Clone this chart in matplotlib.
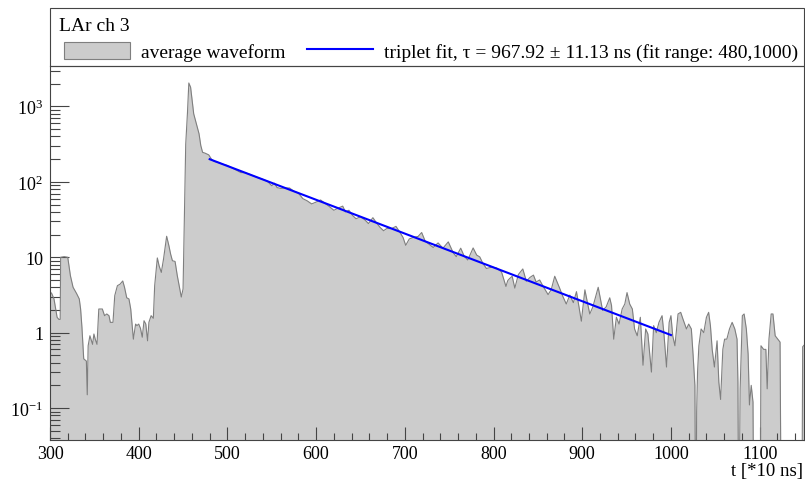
import matplotlib

matplotlib.use("Agg")
import matplotlib.pyplot as plt
import numpy as np
from matplotlib.lines import Line2D
from matplotlib.patches import Patch, Rectangle
from matplotlib.ticker import FixedFormatter, FixedLocator, LogLocator, MultipleLocator, NullFormatter

plt.rcParams["font.family"] = ["Liberation Serif", "DejaVu Serif"]
plt.rcParams["mathtext.fontset"] = "stix"

# average waveform, time in units of 10 ns
TIME = [
    300, 302, 304.5, 306, 308, 310, 311.5, 312, 316, 320, 323, 326, 330, 333, 334.5, 336,
    338, 341, 342, 343, 345, 348, 349.5, 351, 353, 355, 359, 361.5, 364, 366.5, 368, 371,
    373, 376, 379, 382, 384, 386.5, 389, 391, 394, 396.5, 398, 400, 402, 404, 406, 408,
    410, 411.5, 414, 416.5, 418, 421, 423, 425.5, 428, 430, 431.5, 434, 436, 438, 441, 443.5,
    446, 448, 450, 451.5, 453, 455, 456.5, 458.5, 460.5, 462, 465, 468, 470, 472, 475, 479,
    482, 485, 490, 495, 500, 505, 510, 515, 520, 525, 530, 535, 540, 545, 550, 553,
    556, 560, 565, 570, 575, 580, 585, 590, 595, 600, 605, 610, 615, 620, 625, 630,
    633, 637, 641, 645, 650, 655, 659, 664, 668, 672, 676, 680, 685, 690, 694, 698,
    701, 705, 710, 715, 719, 723, 728, 732, 737.5, 743, 749, 754.5, 758, 763, 767, 771,
    777, 781, 784.5, 788, 792, 796, 799, 803.5, 809, 814, 816, 818, 821, 824, 828, 833,
    837, 841, 845, 848, 852, 856, 861.5, 865, 869, 874.5, 878, 882, 886, 890, 893.5, 899,
    903, 906, 908.5, 912, 918, 923, 927, 931, 933, 935.5, 938.5, 941.5, 945, 948, 950.5, 953.5,
    956.5, 959, 962, 965.5, 968.5, 971.5, 974, 978, 980.5, 983.5, 986.5, 990, 992, 995, 998, 1000,
    1002, 1004.5, 1008, 1011, 1013.5, 1017.5, 1020, 1023, 1025, 1027, 1028, 1029, 1030, 1031.5, 1034, 1037,
    1040, 1042.5, 1044.5, 1046.5, 1049, 1052, 1054, 1056, 1058.5, 1060.5, 1063, 1066, 1069, 1072, 1074.5, 1075.5,
    1076.5, 1078, 1080.5, 1082.5, 1085, 1087, 1088.5, 1090.5, 1092.5, 1093.5, 1100.5, 1101.5, 1104.5, 1107, 1108.5, 1110.5,
    1113, 1115, 1117.5, 1120.5, 1123, 1124.5, 1147.5, 1148.5, 1151,
]
AMPLITUDE = [
    3.5, 3.3, 2.8, 2.2, 1.6, 1.5, 1.5, 10.0, 10.2, 10.0, 5.7, 4.0, 3.3, 2.8, 2.06, 1.18,
    0.45, 0.42, 0.15, 0.67, 0.91, 0.7, 0.96, 0.82, 0.7, 2.06, 2.06, 1.68, 1.77, 1.68, 1.37, 1.37,
    3.1, 4.2, 4.4, 4.85, 4.0, 2.9, 2.8, 2.06, 0.82, 1.3, 1.24, 1.3, 1.14, 0.87, 1.44, 1.3,
    0.78, 1.37, 1.68, 1.55, 4.2, 9.8, 7.7, 6.3, 9.5, 14.3, 19.0, 14.3, 11.0, 9.0, 8.8, 5.7,
    4.0, 2.97, 3.8, 32, 316, 840, 2050, 1800, 1150, 800, 590, 435, 303, 247, 240, 228,
    200, 187, 180, 171, 165, 154, 143, 133, 132, 126, 119, 113, 108, 102, 89, 96,
    84, 82, 83, 83, 75, 71, 60, 56, 51, 54, 57.6, 52, 47, 42, 45, 47.7,
    40, 42, 36, 32.4, 34.5, 31.3, 28, 33.5, 28.7, 25, 22.5, 24.2, 24, 25.7, 21.9, 18.3,
    14.4, 17.5, 18.4, 18.9, 21.3, 16.3, 14.7, 13.5, 15.5, 13.2, 16, 11.5, 10.2, 13.2, 10.3, 9.2,
    13.3, 10.7, 10.1, 8.3, 7.1, 7.3, 7.4, 7.2, 6.4, 4.1, 4.9, 5.2, 5.6, 3.9, 5.9, 7.0,
    4.8, 5.4, 5.8, 4.7, 5.0, 4.1, 3.2, 3.7, 5.6, 3.9, 3.05, 2.4, 3.15, 2.5, 3.5, 1.42,
    3.7, 2.45, 1.77, 2.2, 4.0, 1.97, 2.2, 2.9, 2.3, 0.82, 1.6, 1.3, 2.06, 2.4, 3.4, 2.4,
    2.06, 1.12, 0.91, 1.6, 0.37, 1.12, 0.96, 0.30, 1.24, 1.0, 1.37, 1.68, 1.0, 0.35, 1.37, 1.68,
    0.91, 0.67, 1.77, 1.86, 1.52, 1.12, 1.3, 1.12, 0.5, 0.2, 0, 0.09, 0.3, 0.67, 1.12, 1.0,
    1.6, 1.86, 1.24, 0.6, 0.35, 0.78, 0.22, 0.13, 0.6, 0.82, 0.82, 1.12, 1.37, 1.12, 0.82, 0.22,
    0, 0.18, 1.68, 1.77, 1.12, 0.52, 0.11, 0.2, 0.12, 0, 0, 0.67, 0.6, 0.6, 0.18, 0.82,
    1.77, 1.77, 0.91, 0.82, 0.75, 0, 0, 0.65, 0.7,
]

# exponential triplet fit, straight on the log axis
FIT_TIME = [480, 1000]
FIT_AMPLITUDE = [200, 0.93]

X_TICKS = [300, 400, 500, 600, 700, 800, 900, 1000, 1100]
Y_TICKS = [0.1, 1, 10, 100, 1000]
Y_TICK_LABELS = [r"$\mathregular{10^{-1}}$", "1", "10", r"$\mathregular{10^{2}}$", r"$\mathregular{10^{3}}$"]

TITLE = "LAr ch 3"
WAVEFORM_LABEL = "average waveform"
FIT_LABEL = "triplet fit, \u03c4 = 967.92 \u00b1 11.13 ns (fit range: 480,1000)"
X_LABEL = "t [*10 ns]"

FILL_COLOR = "#cccccc"
EDGE_COLOR = "#7f7f7f"
FIT_COLOR = "#0000ff"

W, H = 805, 481

fig = plt.figure(figsize=(W / 100, H / 100), dpi=100)
ax = fig.add_axes([50 / W, 1 - 441 / H, 754 / W, 374 / H])

t = np.array(TIME, dtype=float)
amp = np.clip(np.array(AMPLITUDE, dtype=float), 1e-3, None)
ax.fill_between(t, amp, 1e-3, color=FILL_COLOR, linewidth=0)
ax.plot(t, amp, color=EDGE_COLOR, linewidth=0.8)
ax.plot(FIT_TIME, FIT_AMPLITUDE, color=FIT_COLOR, linewidth=1.5)

ax.set_yscale("log")
ax.set_xlim(300, 1150)
ax.set_ylim(0.0377, 3445)

ax.xaxis.set_major_locator(FixedLocator(X_TICKS))
ax.xaxis.set_minor_locator(MultipleLocator(20))
ax.yaxis.set_major_locator(FixedLocator(Y_TICKS))
ax.yaxis.set_major_formatter(FixedFormatter(Y_TICK_LABELS))
ax.yaxis.set_minor_locator(LogLocator(base=10, subs=range(2, 10)))
ax.yaxis.set_minor_formatter(NullFormatter())

ax.tick_params(axis="both", which="both", direction="in", top=False, right=False, width=0.8, colors="#444444",
               labelcolor="black")
ax.tick_params(axis="x", which="major", length=9.4, pad=3.5, labelsize=13)
ax.tick_params(axis="x", which="minor", length=5)
ax.tick_params(axis="y", which="major", length=13.7, pad=5, labelsize=13)
ax.tick_params(axis="y", which="minor", length=7)
for spine in ax.spines.values():
    spine.set_color("#444444")
    spine.set_linewidth(0.8)

fig.text(803 / W, 1 - 472 / H, X_LABEL, ha="right", va="center", fontsize=13.5)

# legend box on top of the frame
fig.add_artist(Rectangle((50 / W, 1 - 66.7 / H), 754 / W, 57.7 / H, transform=fig.transFigure,
                         fill=False, edgecolor="#444444", linewidth=0.8))
fig.text(59 / W, 1 - 31 / H, TITLE, ha="left", va="baseline", fontsize=14)
handles = [
    Patch(facecolor=FILL_COLOR, edgecolor=EDGE_COLOR, linewidth=0.8),
    Line2D([], [], color=FIT_COLOR, linewidth=1.5),
]
fig.legend(handles, [WAVEFORM_LABEL, FIT_LABEL], ncol=2, loc="center left",
           bbox_to_anchor=(64 / W, 1 - 52.5 / H), frameon=False, fontsize=14,
           handlelength=3.4, handleheight=1.0, handletextpad=0.55, columnspacing=1.1,
           borderpad=0, borderaxespad=0)

fig.savefig("out.png", dpi=100)
plt.close(fig)
